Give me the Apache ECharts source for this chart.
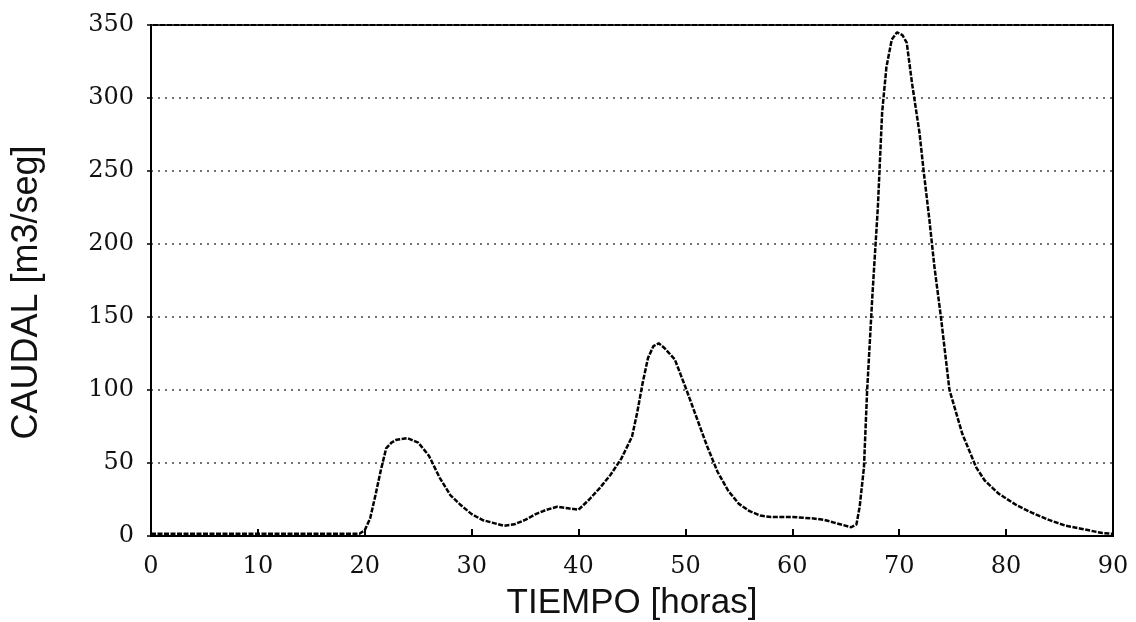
<!DOCTYPE html>
<html><head><meta charset="utf-8">
<script src="https://cdn.jsdelivr.net/npm/echarts@6/dist/echarts.min.js"></script>
<style>html,body{margin:0;padding:0;background:#fff}#c{width:1136px;height:622px}</style>
</head><body><div id="c"></div>
<script>
const xTicks = [0,10,20,30,40,50,60,70,80,90];
const yTicks = [0,50,100,150,200,250,300,350];
const tiempo = [0,5,10,15,19.5,20,20.5,21,21.5,22,22.5,23,24,25,26,27,28,29,30,31,32,33,34,35,36,37,38,39,40,41,42,43,44,45,45.5,46,46.5,47,47.5,48,49,50,51,52,53,54,55,56,57,58,60,62,63,64,65.5,66,66.3,66.7,67,67.5,68,68.4,68.8,69.3,69.8,70.3,70.7,71.2,71.9,72.3,72.8,73.3,73.9,74.7,75.9,77.2,78,79.3,81,82.4,84,85.6,87,89,90];
const caudal = [1.5,1.5,1.5,1.5,1.5,4,12,28,45,60,64,66,67,64,55,40,28,21,15,11,9,7,8,11,15,18,20,19,18,25,33,42,53,68,85,105,122,130,132,129,121,102,82,62,44,31,22,17,14,13,13,12,11,9,6,8,20,47,100,166,225,290,321,340,345,343,338,310,276,249,218,184,150,100,70,47,38,29,21,16,11,7,5,2,1.5];

const chart = echarts.init(document.getElementById('c'));
chart.setOption({
  animation:false,
  backgroundColor:'#fff',
  grid:{left:151,right:23,top:25,bottom:86,show:true,borderColor:'#000',borderWidth:2,containLabel:false,outerBoundsMode:'none'},
  xAxis:{type:'value',min:xTicks[0],max:xTicks[xTicks.length-1],interval:10,
    name:'TIEMPO [horas]',nameLocation:'middle',nameGap:50,
    nameTextStyle:{fontFamily:'Liberation Sans',fontSize:35,color:'#111'},
    axisLine:{lineStyle:{color:'#000',width:2}},
    axisTick:{inside:true,length:7,lineStyle:{color:'#000',width:2}},
    axisLabel:{fontFamily:'DejaVu Serif',fontSize:24,color:'#111',margin:19},
    splitLine:{show:false}},
  yAxis:{type:'value',min:yTicks[0],max:yTicks[yTicks.length-1],interval:50,
    name:'CAUDAL [m3/seg]',nameLocation:'middle',nameGap:106,
    nameTextStyle:{fontFamily:'Liberation Sans',fontSize:36,color:'#111',padding:[0,24,0,0]},
    axisLine:{lineStyle:{color:'#000',width:2}},
    axisTick:{length:4,lineStyle:{color:'#000',width:1.5}},
    axisLabel:{fontFamily:'DejaVu Serif',fontSize:24,color:'#111',margin:17},
    splitLine:{show:true,lineStyle:{color:'#444',type:[2,5],width:1.5}}},
  series:[{type:'line',data:tiempo.map((t,i)=>[t,caudal[i]]),showSymbol:false,
    lineStyle:{color:'#000',width:2.5,type:[5,1.5]}}]
});
</script></body></html>
